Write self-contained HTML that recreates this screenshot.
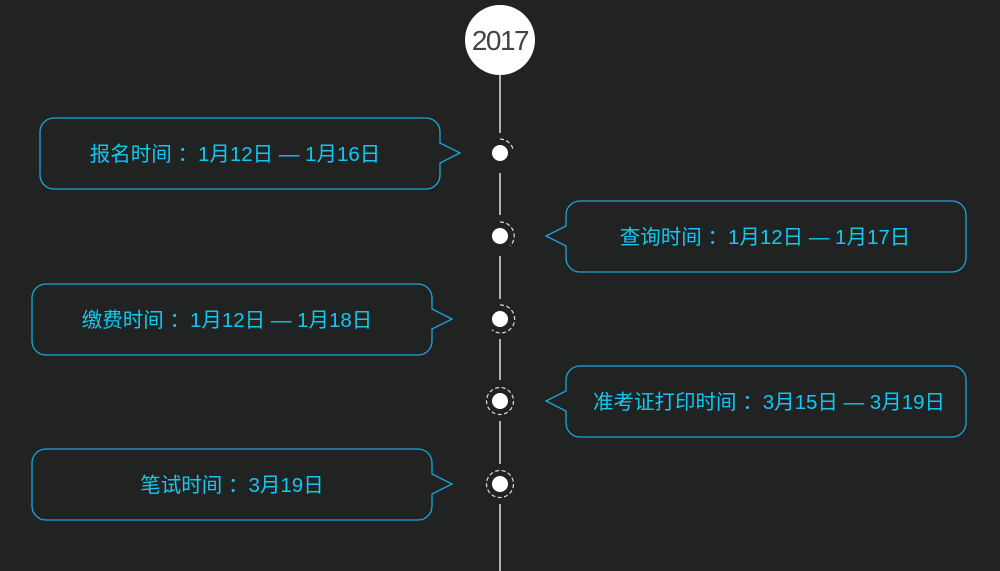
<!DOCTYPE html>
<html><head><meta charset="utf-8"><style>
html,body{margin:0;padding:0;background:#212222;}
svg{display:block}
text{font-family:"Liberation Sans","Noto Sans CJK SC",sans-serif;font-size:20.5px;fill:#12c8f2}
</style></head><body>
<svg width="1000" height="571" viewBox="0 0 1000 571">
<rect width="1000" height="571" fill="#212222"/>
<g stroke="#fff" stroke-width="1.3">
<line x1="500" y1="74" x2="500" y2="133"/>
<line x1="500" y1="173" x2="500" y2="215"/>
<line x1="500" y1="256" x2="500" y2="299"/>
<line x1="500" y1="339" x2="500" y2="380"/>
<line x1="500" y1="421" x2="500" y2="464"/>
<line x1="500" y1="504" x2="500" y2="571"/>
</g>
<circle cx="500" cy="40" r="35" fill="#fff"/>
<text x="500" y="50" text-anchor="middle" style="font-size:28px;fill:#444;letter-spacing:-1.5px">2017</text>
<g fill="#fff">
<circle cx="500" cy="153" r="8"/><circle cx="500" cy="236" r="8"/><circle cx="500" cy="319" r="8"/><circle cx="500" cy="401" r="8"/><circle cx="500" cy="484" r="8"/>
</g>
<g fill="none" stroke="#ddd" stroke-width="1.2" stroke-dasharray="4 2.5">
<path d="M500 139 A14 14 0 0 1 513 149"/>
<path d="M500 222 A14 14 0 0 1 510 246"/>
<path d="M500 305 A14 14 0 1 1 492 330"/>
<circle cx="500" cy="401" r="13.5"/>
<circle cx="500" cy="484" r="13.5"/>
</g>
<g fill="none" stroke="#17a9d8" stroke-width="1.3">
<path d="M54 118 H426 A14 14 0 0 1 440 132 V143 L460 153 L440 163 V175 A14 14 0 0 1 426 189 H54 A14 14 0 0 1 40 175 V132 A14 14 0 0 1 54 118 Z"/>
<path d="M580 201 H952 A14 14 0 0 1 966 215 V258 A14 14 0 0 1 952 272 H580 A14 14 0 0 1 566 258 V246 L546 236 L566 226 V215 A14 14 0 0 1 580 201 Z"/>
<path d="M46 284 H418 A14 14 0 0 1 432 298 V309 L452 319 L432 329 V341 A14 14 0 0 1 418 355 H46 A14 14 0 0 1 32 341 V298 A14 14 0 0 1 46 284 Z"/>
<path d="M580 366 H952 A14 14 0 0 1 966 380 V423 A14 14 0 0 1 952 437 H580 A14 14 0 0 1 566 423 V411 L546 401 L566 391 V380 A14 14 0 0 1 580 366 Z"/>
<path d="M46 449 H418 A14 14 0 0 1 432 463 V474 L452 484 L432 494 V506 A14 14 0 0 1 418 520 H46 A14 14 0 0 1 32 506 V463 A14 14 0 0 1 46 449 Z"/>
</g>
<text x="235" y="161" text-anchor="middle">报名时间 ：1月12日 — 1月16日</text>
<text x="765" y="244" text-anchor="middle">查询时间 ：1月12日 — 1月17日</text>
<text x="227" y="327" text-anchor="middle">缴费时间 ：1月12日 — 1月18日</text>
<text x="769" y="409" text-anchor="middle">准考证打印时间 ：3月15日 — 3月19日</text>
<text x="232" y="492" text-anchor="middle">笔试时间 ：3月19日</text>
</svg>
</body></html>
